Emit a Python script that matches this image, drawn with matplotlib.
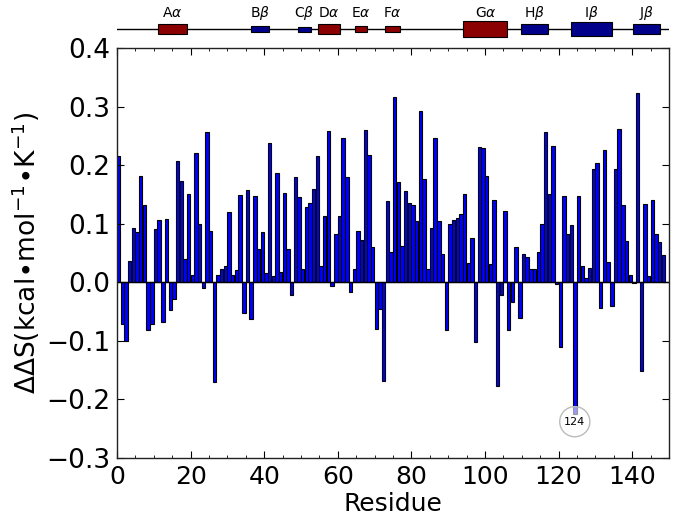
import numpy as np
import matplotlib
matplotlib.use("Agg")
import matplotlib.pyplot as plt
from matplotlib.patches import Rectangle
from matplotlib.ticker import MultipleLocator

# ---- data ----
residues = np.arange(149)
dds = [
    0.215, -0.072, -0.100, 0.036, 0.093, 0.086, 0.182, 0.132, -0.082, -0.072,
    0.091, 0.106, -0.068, 0.108, -0.048, -0.028, 0.207, 0.173, 0.040, 0.150,
    0.013, 0.221, 0.099, -0.009, 0.257, 0.087, -0.170, 0.012, 0.023, 0.028,
    0.120, 0.012, 0.021, 0.149, -0.052, 0.158, -0.062, 0.147, 0.057, 0.086,
    0.016, 0.238, 0.010, 0.186, 0.018, 0.153, 0.057, -0.022, 0.180, 0.145,
    0.023, 0.129, 0.136, 0.160, 0.216, 0.028, 0.113, 0.259, -0.006, 0.082,
    0.113, 0.246, 0.179, -0.017, 0.023, 0.087, 0.073, 0.260, 0.218, 0.061,
    -0.080, -0.046, -0.169, 0.138, 0.051, 0.316, 0.171, 0.062, 0.156, 0.136,
    0.132, 0.104, 0.293, 0.176, 0.023, 0.093, 0.246, 0.104, 0.048, -0.082,
    0.099, 0.107, 0.109, 0.117, 0.151, 0.033, 0.076, -0.102, 0.231, 0.229,
    0.181, 0.032, 0.141, -0.177, -0.022, 0.122, -0.082, -0.033, 0.061, -0.061,
    0.048, 0.043, 0.022, 0.023, 0.051, 0.099, 0.256, 0.151, 0.233, -0.003,
    -0.111, 0.148, 0.082, 0.098, -0.225, 0.148, 0.028, 0.008, 0.024, 0.193,
    0.204, -0.044, 0.226, 0.035, -0.040, 0.194, 0.261, 0.132, 0.071, 0.013,
    -0.002, 0.323, -0.151, 0.134, 0.010, 0.141, 0.082, 0.068, 0.046,
]
xticks = [0, 20, 40, 60, 80, 100, 120, 140]
yticks = [-0.3, -0.2, -0.1, 0.0, 0.1, 0.2, 0.3, 0.4]

highlight_residue = 124
highlight_label = "124"

# secondary structure elements
ss_letters = ['A', 'B', 'C', 'D', 'E', 'F', 'G', 'H', 'I', 'J']
ss_kind = ['alpha', 'beta', 'beta', 'alpha', 'alpha', 'alpha', 'alpha', 'beta', 'beta', 'beta']
ss_start = [11.2, 36.3, 49.3, 54.6, 64.6, 72.7, 94.1, 109.9, 123.4, 140.3]
ss_end = [19.0, 41.4, 52.6, 60.7, 67.8, 76.8, 106.1, 117.2, 134.4, 147.5]
ss_height = [10.3, 6.0, 5.0, 9.7, 5.3, 6.0, 16.7, 10.3, 14.7, 10.3]

# ---- figure ----
W, H = 675, 518
fig = plt.figure(figsize=(W / 100, H / 100), dpi=100)
left, right, top, bottom = 117 / W, 669 / W, 48 / H, 458 / H
ax = fig.add_axes([left, 1 - bottom, right - left, bottom - top])

ax.bar(residues, dds, width=0.92, align='edge', color='#0000ff',
       edgecolor='black', linewidth=0.8)
ax.axhline(0, color='black', linewidth=1.0)
ax.set_xlim(0, 150)
ax.set_ylim(-0.3, 0.4)
ax.set_xticks(xticks)
ax.set_yticks(yticks)
ax.set_yticklabels([f"{v:.1f}".replace('-', '\u2212') for v in yticks])
ax.xaxis.set_minor_locator(MultipleLocator(5))
ax.tick_params(axis='x', which='major', labelsize=18)
ax.tick_params(axis='y', which='major', labelsize=19)
ax.tick_params(axis='both', which='major', direction='in', length=5,
               top=True, right=True, pad=5)
ax.tick_params(axis='x', which='minor', direction='in', length=2.5, top=True)
for s in ax.spines.values():
    s.set_linewidth(1.0)
    s.set_color('#222222')
ax.set_xlabel('Residue', fontsize=18, labelpad=2)
ax.set_ylabel(r'$\Delta\Delta$S(kcal$\bullet$mol$^{-1}$$\bullet$K$^{-1}$)',
              fontsize=19, labelpad=3)

# highlighted residue annotation
hv = dds[highlight_residue]
ax.text(highlight_residue + 0.4, hv - 0.013, highlight_label, fontsize=8,
        ha='center', va='center', zorder=5,
        bbox=dict(boxstyle='circle,pad=0.4', fc=(1, 1, 1, 0.6),
                  ec='#bbbbbb', lw=1.0))

# ---- secondary structure strip ----
sax = fig.add_axes([left, 1 - 45 / H, right - left, 40 / H])
sax.set_xlim(0, 150)
sax.set_ylim(0, 40)
sax.axis('off')
line_y = 16
sax.axhline(line_y, color='black', linewidth=1.0, zorder=1)
for L, k, s, e, h in zip(ss_letters, ss_kind, ss_start, ss_end, ss_height):
    col = '#8b0000' if k == 'alpha' else '#00008b'
    sax.add_patch(Rectangle((s, line_y - h / 2), e - s, h, facecolor=col,
                            edgecolor='black', linewidth=0.8, zorder=2))
    greek = r'$\alpha$' if k == 'alpha' else r'$\beta$'
    sax.text((s + e) / 2, 32.3, L + greek, ha='center', va='center',
             fontsize=10)

fig.savefig('out.png', dpi=100)
